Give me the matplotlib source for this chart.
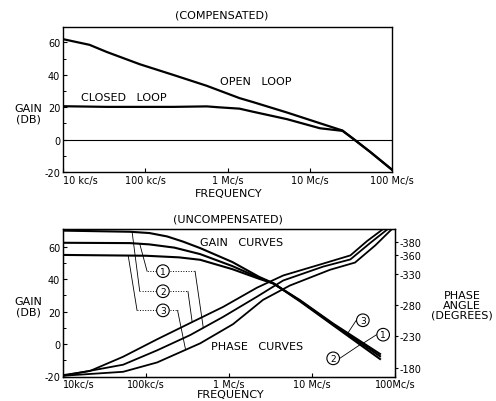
import numpy as np
import matplotlib.pyplot as plt
from matplotlib.patches import ConnectionPatch
from matplotlib.ticker import NullLocator

plt.rcParams['font.family'] = ['DejaVu Sans']

# ---- compensated (top panel) ----
freq_open = [1e4, 2.1e4, 3.4e4, 8.6e4, 2.2e5, 5.6e5, 1.4e6, 2.0e6, 5.3e6, 1.33e7, 2.5e7, 3.4e7, 5.4e7, 1e8]
gain_open = [62.0, 58.5, 54.1, 46.5, 39.9, 33.2, 25.6, 23.3, 16.7, 10.1, 5.6, 0.4, -7.5, -18.6]
freq_closed = [1e4, 3.4e4, 2.2e5, 5.6e5, 8.0e5, 1.4e6, 2.0e6, 5.3e6, 1.33e7, 2.5e7, 3.4e7, 5.4e7, 1e8]
gain_closed = [20.6, 20.2, 20.2, 20.5, 19.9, 19.1, 17.3, 12.6, 7.0, 5.4, 0.4, -7.5, -18.6]

# ---- uncompensated (bottom panel) ----
freq_g2 = [1e4, 6.4e4, 1.1e5, 1.8e5, 2.8e5, 4.5e5, 1.1e6, 2.3e6, 3.4e6, 7.2e6, 1.8e7, 6.6e7]
gain_g2 = [70.0, 69.3, 68.5, 66.4, 63.2, 59.2, 50.6, 41.5, 37.6, 26.3, 11.6, -9.2]
freq_g1 = [1e4, 6.4e4, 1.1e5, 2.2e5, 4.5e5, 1.1e6, 2.3e6, 3.4e6, 7.2e6, 1.8e7, 6.6e7]
gain_g1 = [62.5, 62.3, 61.5, 59.5, 55.5, 48.1, 40.9, 37.6, 26.7, 12.1, -7.5]
freq_g3 = [1e4, 1e5, 2.5e5, 4.5e5, 1.1e6, 2.3e6, 3.4e6, 7.2e6, 1.8e7, 6.6e7]
gain_g3 = [55.0, 54.5, 53.5, 52.0, 46.2, 40.3, 37.4, 27.0, 12.6, -6.1]

freq_pa = [1e4, 2.1e4, 5.3e4, 1.36e5, 3.4e5, 8.5e5, 2.17e6, 4.5e6, 1.36e7, 2.9e7, 4.6e7, 7.2e7]
phase_pa = [-168, -174.5, -197.3, -225.1, -251.0, -276.8, -307.4, -326.9, -345.8, -358.9, -381.7, -401]
freq_pb = [1e4, 5.3e4, 1.36e5, 3.4e5, 8.5e5, 2.17e6, 4.5e6, 1.36e7, 2.9e7, 5.0e7, 8.2e7]
phase_pb = [-167, -184.6, -207.5, -231.8, -260.9, -293.0, -318.9, -341.0, -352.5, -378.5, -401]
freq_pc = [1e4, 5.3e4, 1.36e5, 4.5e5, 1.12e6, 2.57e6, 5.4e6, 1.65e7, 3.3e7, 5.8e7, 9.2e7]
phase_pc = [-167, -173.3, -188.2, -218.7, -249.3, -288.0, -310.8, -336.0, -347.5, -375.0, -401]

decades = [1e4, 1e5, 1e6, 1e7, 1e8]
top_xlabels = ['10 kc/s', '100 kc/s', '1 Mc/s', '10 Mc/s', '100 Mc/s']
bot_xlabels = ['10kc/s', '100kc/s', '1 Mc/s', '10 Mc/s', '100Mc/s']
gain_ticks = [-20, 0, 20, 40, 60]
gain_labels = ['-20', '0', '20', '40', '60']
phase_ticks = [-380, -360, -330, -280, -230, -180]
phase_labels = ['-380', '-360', '-330', '-280', '-230', '-180']

fig = plt.figure(figsize=(4.96, 4.02), dpi=100)
fs = 7      # tick labels
lfs = 8     # lettering


def ftext(x, y, s, **kw):
    # position in figure pixels
    fig.text(x / 496, 1 - y / 402, s, ha='center', va='center', fontsize=lfs, **kw)


def style_axis(ax, xlabels):
    ax.set_xscale('log')
    ax.set_xlim(1e4, 1e8)
    ax.set_xticks(decades, xlabels)
    ax.xaxis.set_minor_locator(NullLocator())
    ax.set_yticks(gain_ticks, gain_labels)
    ax.set_yticks([-10, 10, 30, 50], minor=True)
    ax.tick_params(direction='in', length=3, width=0.8, labelsize=fs, pad=2)
    ax.tick_params(which='minor', direction='in', length=2, width=0.7)
    ax.get_xticklabels()[0].set_ha('left')
    for s in ax.spines.values():
        s.set_linewidth(1.0)


# top panel
ax1 = fig.add_axes([63 / 496, 1 - 173 / 402, 329 / 496, 145 / 402])
style_axis(ax1, top_xlabels)
ax1.set_ylim(-20, 69.5)
ax1.axhline(0, color='black', lw=0.8)
ax1.plot(freq_open, gain_open, color='black', lw=1.6)
ax1.plot(freq_closed, gain_closed, color='black', lw=1.6)

ftext(222, 15, '(COMPENSATED)')
ftext(256, 82, 'OPEN   LOOP')
ftext(124, 98, 'CLOSED   LOOP')
ftext(28, 114, 'GAIN\n(DB)', linespacing=1.1)
ftext(229, 194, 'FREQUENCY')

# bottom panel
ax2 = fig.add_axes([63 / 496, 1 - 377.5 / 402, 332 / 496, 147.5 / 402])
style_axis(ax2, bot_xlabels)
ax2.set_ylim(-20, 71)
axp = ax2.twinx()
axp.set_ylim(-165.8, -401)
axp.set_yticks(phase_ticks, phase_labels)
axp.tick_params(direction='out', length=2, width=0.8, labelsize=fs, pad=1)
axp.yaxis.set_minor_locator(NullLocator())

ax2.plot(freq_g2, gain_g2, color='black', lw=1.5)
ax2.plot(freq_g1, gain_g1, color='black', lw=1.5)
ax2.plot(freq_g3, gain_g3, color='black', lw=1.5)
axp.plot(freq_pa, phase_pa, color='black', lw=1.3)
axp.plot(freq_pb, phase_pb, color='black', lw=1.3)
axp.plot(freq_pc, phase_pc, color='black', lw=1.3)

circ = dict(boxstyle='circle,pad=0.2', fc='white', ec='black', lw=0.8)

# left circled labels with leaders to gain and phase curves
leaders = [
    ('1', 45.0, 1.03e5, 8.4e4, freq_g1, gain_g1, 3.9e5, 4.9e5, freq_pb, phase_pb),
    ('2', 32.6, 8.4e4, 6.8e4, freq_g2, gain_g2, 3.2e5, 3.6e5, freq_pa, phase_pa),
    ('3', 20.8, 7.8e4, 6.1e4, freq_g3, gain_g3, 2.4e5, 3.0e5, freq_pc, phase_pc),
]
lab_f = 1.6e5
for num, g, f_el, f_hit, fg, gg, f_el2, f_hit2, fp, pp in leaders:
    ax2.text(lab_f, g, num, ha='center', va='center', fontsize=6.5, bbox=circ, zorder=5)
    g_hit = np.interp(np.log10(f_hit), np.log10(fg), gg)
    ax2.plot([lab_f / 1.2, f_el], [g, g], color='black', lw=0.7, ls=':')
    ax2.plot([f_el, f_hit], [g, g_hit], color='black', lw=0.6)
    ax2.plot([lab_f * 1.2, f_el2], [g, g], color='black', lw=0.7, ls=':')
    p_hit = np.interp(np.log10(f_hit2), np.log10(fp), pp)
    con = ConnectionPatch(xyA=(f_el2, g), coordsA=ax2.transData,
                          xyB=(f_hit2, p_hit), coordsB=axp.transData,
                          color='black', lw=0.6)
    fig.add_artist(con)

# right circled labels
right_labels = [
    ('3', 4.1e7, 14.7, 4.1e7 / 1.2, 2.7e7, freq_g3, gain_g3),
    ('1', 7.2e7, 5.8, 7.2e7 / 1.2, 4.0e7, freq_g1, gain_g1),
    ('2', 1.8e7, -8.8, 1.8e7 * 1.2, 3.8e7, freq_g2, gain_g2),
]
for num, f, g, f0, f_hit, fg, gg in right_labels:
    ax2.text(f, g, num, ha='center', va='center', fontsize=6.5, bbox=circ, zorder=5)
    g_hit = np.interp(np.log10(f_hit), np.log10(fg), gg)
    ax2.plot([f0, f_hit], [g, g_hit], color='black', lw=0.6)

ftext(228, 220, '(UNCOMPENSATED)')
ftext(242, 243, 'GAIN   CURVES')
ftext(257, 347, 'PHASE   CURVES')
ftext(28, 307, 'GAIN\n(DB)', linespacing=1.1)
ftext(462, 306, 'PHASE\nANGLE\n(DEGREES)', linespacing=1.0)
ftext(231, 395, 'FREQUENCY')

fig.savefig('out.png', dpi=100, facecolor='white')
